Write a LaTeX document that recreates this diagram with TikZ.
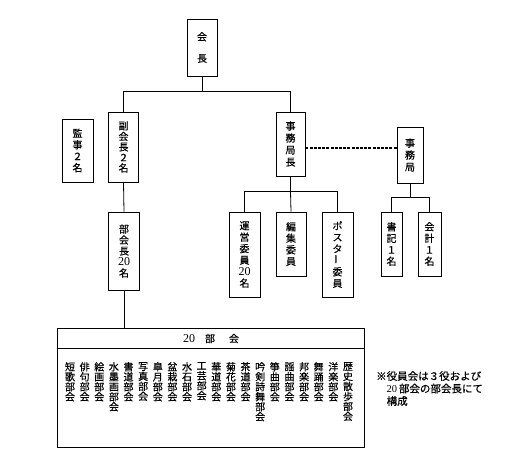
\documentclass[tikz,border=0pt]{standalone}
\usepackage{fontspec}
\setmainfont{Liberation Serif}
\newfontfamily\jp{Noto Sans CJK JP}[FakeBold=0.4]
\usetikzlibrary{positioning}

\tikzset{
  yaku/.style={draw, line width=0.8pt, inner sep=0pt, align=center,
    font=\jp\fontsize{10}{11.5}\selectfont},
  sen/.style={line width=0.8pt},
  bu/.style={anchor=north, inner sep=0pt, align=center,
    font=\jp\fontsize{10}{10}\selectfont},
}
\newcommand{\nobashi}{\rotatebox{90}{ー}}

\begin{document}
\begin{tikzpicture}[x=1pt,y=-1pt]
    \useasboundingbox (0,0) rectangle (519,461);

    % 会長
    \node[yaku, minimum width=30, minimum height=57] (kaicho) at (202,47.5) {会\\[10pt]長};

    % 監事, 副会長, 部会長
    \node[yaku, minimum width=31, minimum height=63] (kanji) at (77.5,150.5) {監\\事\\２\\名};
    \node[yaku, minimum width=30, minimum height=70, font=\jp\fontsize{10}{10.5}\selectfont] (fukukaicho) at (123.5,147) {副\\会\\長\\２\\名};
    \node[yaku, minimum width=31, minimum height=78, font=\jp\fontsize{10}{11}\selectfont] (bukaicho) at (124,251) {部\\会\\長\\{\rmfamily\large 20}\\名};

    % 事務局長とその下
    \node[yaku, minimum width=29, minimum height=64, font=\jp\fontsize{10}{12}\selectfont] (kyokucho) at (290.5,144) {事\\務\\局\\長};
    \node[yaku, minimum width=31, minimum height=85] (unei) at (244.5,254.5) {運\\営\\委\\員\\{\rmfamily\large 20}\\名};
    \node[yaku, minimum width=30, minimum height=64] (henshu) at (291,244) {編\\集\\委\\員};
    \node[yaku, minimum width=31, minimum height=85] (poster) at (337.5,254.5) {ポ\\ス\\タ\\\nobashi\\委\\員};

    % 事務局
    \node[yaku, minimum width=26, minimum height=56, font=\jp\fontsize{10}{12}\selectfont] (kyoku) at (410,155) {事\\務\\局};
    \node[yaku, minimum width=21, minimum height=64] (shoki) at (391.5,244) {書\\記\\１\\名};
    \node[yaku, minimum width=23, minimum height=64] (kaikei) at (429.5,244) {会\\計\\１\\名};

    % 20部会の枠
    \node[draw, line width=0.8pt, minimum width=307, minimum height=119, inner sep=0pt] (bukai) at (210.5,387.5) {};
    \draw[sen] ([yshift=-21pt]bukai.north west) -- ([yshift=-21pt]bukai.north east);
    \node[font=\jp\fontsize{10}{10}\selectfont, inner sep=0pt] (midashi) at (211,338.5) {{\rmfamily\large 20}\hspace{10pt}部\hspace{14pt}会};

    \foreach \na [count=\i from 0] in {{短\\歌}, {俳\\句}, {絵\\画}, {水\\墨\\画}, {書\\道}, {写\\真}, {皐\\月}, {盆\\栽}, {水\\石}, {工\\芸}, {華\\道}, {菊\\花}, {茶\\道}, {吟\\剣\\詩\\舞}, {箏\\曲}, {謡\\曲}, {邦\\楽}, {舞\\踊}, {洋\\楽}, {歴\\史\\散\\歩}}
      \node[bu] (bu\i) at (70+14.63*\i,362) {\na\\部\\会};

    % 線
    \draw[sen] (kaicho.south) -- ++(0,15) coordinate (k1);
    \draw[sen] (fukukaicho.north) |- (k1) -| (kyokucho.north);
    \draw[sen] (fukukaicho.south) -- (bukaicho.north);
    \draw[sen] (bukaicho.south) -- (bukaicho.south |- bukai.north);

    \draw[sen] (kyokucho.south) -- ++(0,15) coordinate (j1);
    \draw[sen] (unei.north) |- (j1) -| (poster.north);
    \draw[sen] (j1) -- (henshu.north);

    \coordinate (d1) at ([yshift=-4pt]kyokucho.east);
    \draw[line width=1.3pt, dash pattern=on 3pt off 1.2pt] (d1) -- (d1 -| kyoku.west);

    \draw[sen] (kyoku.south) -- ++(0,14) coordinate (s1);
    \draw[sen] (shoki.north) |- (s1) -| (kaikei.north);

    % 注記
    \node[anchor=north west, inner sep=0pt, align=left, font=\jp\fontsize{10.5}{12.5}\selectfont] (chuki) at (376,371)
      {※役員会は３役および\\\phantom{※}{\rmfamily 20}\,部会の部会長にて\\\phantom{※}構成};
\end{tikzpicture}
\end{document}
